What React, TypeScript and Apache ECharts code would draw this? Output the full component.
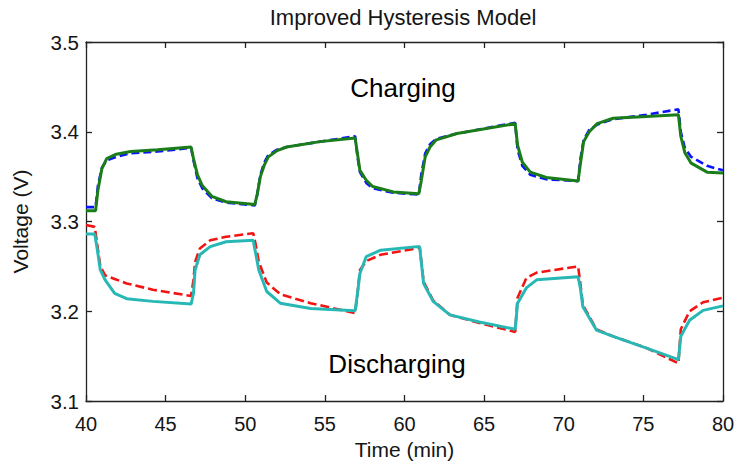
import React, { useEffect, useRef } from "react";
import * as echarts from "echarts";

// ---------- data ----------
const chargeTime = [40, 40.6, 40.75, 41.0, 41.3, 41.9, 42.8, 44.5, 46.6, 46.75, 47.0, 47.3, 47.9, 48.8, 50.6, 50.75, 50.95, 51.2, 51.45, 52.0, 52.6, 54.7, 56.9, 57.05, 57.2, 57.6, 58.0, 59.3, 60.9, 61.05, 61.3, 61.6, 62.0, 63.3, 66.95, 67.1, 67.4, 67.9, 68.9, 70.9, 71.05, 71.25, 71.6, 72.1, 73.1, 75.2, 77.2, 77.35, 77.6, 78.0, 79.0, 80];
const chargeMeasured = [3.312, 3.312, 3.335, 3.359, 3.370, 3.375, 3.378, 3.380, 3.383, 3.370, 3.352, 3.340, 3.328, 3.322, 3.319, 3.330, 3.350, 3.363, 3.372, 3.379, 3.383, 3.389, 3.393, 3.375, 3.357, 3.346, 3.339, 3.333, 3.331, 3.345, 3.372, 3.383, 3.391, 3.398, 3.409, 3.385, 3.366, 3.355, 3.349, 3.345, 3.365, 3.389, 3.400, 3.409, 3.415, 3.417, 3.419, 3.395, 3.377, 3.365, 3.355, 3.354];
const chargeModel = [3.316, 3.316, 3.340, 3.360, 3.368, 3.372, 3.376, 3.378, 3.382, 3.368, 3.348, 3.337, 3.326, 3.321, 3.318, 3.330, 3.352, 3.366, 3.374, 3.380, 3.383, 3.389, 3.395, 3.372, 3.355, 3.343, 3.337, 3.332, 3.330, 3.352, 3.376, 3.386, 3.392, 3.398, 3.410, 3.380, 3.362, 3.352, 3.347, 3.345, 3.370, 3.391, 3.402, 3.408, 3.414, 3.419, 3.425, 3.400, 3.382, 3.372, 3.362, 3.357];

const dischargeTime = [40, 40.55, 40.7, 40.9, 41.2, 41.8, 42.55, 44.2, 46.6, 46.75, 46.85, 47.15, 47.8, 48.8, 50.5, 50.65, 50.85, 51.35, 52.2, 54.1, 56.9, 57.05, 57.2, 57.6, 58.5, 60.8, 60.95, 61.2, 61.8, 62.85, 64.7, 66.95, 67.1, 67.65, 68.3, 70.9, 71.05, 71.2, 72.05, 73.1, 75.2, 77.2, 77.35, 77.9, 78.75, 80];
const dischargeMeasured = [3.286, 3.286, 3.270, 3.246, 3.235, 3.220, 3.214, 3.211, 3.208, 3.220, 3.246, 3.263, 3.272, 3.2775, 3.279, 3.265, 3.246, 3.222, 3.209, 3.203, 3.2005, 3.220, 3.242, 3.261, 3.268, 3.272, 3.272, 3.231, 3.211, 3.196, 3.188, 3.180, 3.209, 3.226, 3.235, 3.2385, 3.225, 3.205, 3.179, 3.172, 3.159, 3.146, 3.172, 3.190, 3.201, 3.206];
const dischargeModel = [3.296, 3.294, 3.275, 3.250, 3.240, 3.236, 3.231, 3.224, 3.217, 3.235, 3.255, 3.270, 3.279, 3.283, 3.287, 3.275, 3.255, 3.232, 3.219, 3.209, 3.198, 3.220, 3.246, 3.256, 3.263, 3.270, 3.272, 3.233, 3.212, 3.196, 3.187, 3.177, 3.215, 3.237, 3.243, 3.250, 3.230, 3.207, 3.180, 3.172, 3.159, 3.142, 3.180, 3.200, 3.210, 3.215];

const xTicks = [40, 45, 50, 55, 60, 65, 70, 75, 80];
const yTicks = [3.1, 3.2, 3.3, 3.4, 3.5];

const titleText = "Improved Hysteresis Model";
const chargeLabel = "Charging";
const dischargeLabel = "Discharging";
const xName = "Time (min)";
const yName = "Voltage (V)";

const zip = (t: number[], v: number[]) => t.map((x, i) => [x, v[i]]);

const FONT = "'Liberation Sans', Arial, sans-serif";
const AXIS_COLOR = "#222";
const TEXT_COLOR = "#151515";

export default function App() {
  const ref = useRef<HTMLDivElement>(null);
  useEffect(() => {
    if (!ref.current) return;
    const chart = echarts.init(ref.current, undefined, { renderer: "svg" });
    const axisCommon = {
      axisLine: { show: true, onZero: false, lineStyle: { color: AXIS_COLOR, width: 1.3 } },
      axisTick: { show: true, inside: true, length: 6, lineStyle: { color: AXIS_COLOR, width: 1.3 } },
      splitLine: { show: false },
    };
    chart.setOption({
      animation: false,
      backgroundColor: "#fff",
      grid: { left: 86, right: 16, top: 42, bottom: 64, containLabel: false },
      xAxis: [
        {
          type: "value",
          min: 40,
          max: 80,
          interval: 5,
          position: "bottom",
          name: xName,
          nameLocation: "middle",
          nameGap: 38,
          nameTextStyle: { fontSize: 21, color: TEXT_COLOR, fontFamily: FONT },
          ...axisCommon,
          axisLabel: {
            show: true,
            margin: 13,
            fontSize: 20,
            color: TEXT_COLOR,
            fontFamily: FONT,
            formatter: (v: number) => (xTicks.includes(v) ? String(v) : ""),
          },
        },
        {
          type: "value",
          min: 40,
          max: 80,
          interval: 5,
          position: "top",
          ...axisCommon,
          axisLabel: { show: false },
        },
      ],
      yAxis: [
        {
          type: "value",
          min: 3.1,
          max: 3.5,
          interval: 0.1,
          position: "left",
          name: yName,
          nameLocation: "middle",
          nameGap: 55,
          nameTextStyle: { fontSize: 21, color: TEXT_COLOR, fontFamily: FONT },
          ...axisCommon,
          axisLabel: {
            show: true,
            margin: 7,
            fontSize: 20.5,
            color: TEXT_COLOR,
            fontFamily: FONT,
            formatter: (v: number) => {
              const f = yTicks.find((t) => Math.abs(t - v) < 1e-6);
              return f !== undefined ? f.toFixed(1) : "";
            },
          },
        },
        {
          type: "value",
          min: 3.1,
          max: 3.5,
          interval: 0.1,
          position: "right",
          ...axisCommon,
          axisLabel: { show: false },
        },
      ],
      graphic: [
        {
          type: "text",
          x: 403,
          y: 17,
          style: {
            text: titleText,
            fontSize: 22,
            fontFamily: FONT,
            fill: TEXT_COLOR,
            textAlign: "center",
            textVerticalAlign: "middle",
          },
        },
        {
          type: "text",
          x: 403,
          y: 88,
          style: {
            text: chargeLabel,
            fontSize: 26,
            fontFamily: FONT,
            fill: "#000",
            textAlign: "center",
            textVerticalAlign: "middle",
          },
        },
        {
          type: "text",
          x: 397,
          y: 364,
          style: {
            text: dischargeLabel,
            fontSize: 26,
            fontFamily: FONT,
            fill: "#000",
            textAlign: "center",
            textVerticalAlign: "middle",
          },
        },
      ],
      series: [
        {
          type: "line",
          name: "Charging model",
          data: zip(chargeTime, chargeModel),
          showSymbol: false,
          lineStyle: { color: "#0a14ff", width: 2.6, type: [8, 4] },
          z: 2,
        },
        {
          type: "line",
          name: "Charging measured",
          data: zip(chargeTime, chargeMeasured),
          showSymbol: false,
          lineStyle: { color: "#1a7d1a", width: 3 },
          z: 3,
        },
        {
          type: "line",
          name: "Discharging model",
          data: zip(dischargeTime, dischargeModel),
          showSymbol: false,
          lineStyle: { color: "#f21313", width: 2.6, type: [9, 4] },
          z: 2,
        },
        {
          type: "line",
          name: "Discharging measured",
          data: zip(dischargeTime, dischargeMeasured),
          showSymbol: false,
          lineStyle: { color: "#27b8b5", width: 3 },
          z: 3,
        },
      ],
    });
    return () => chart.dispose();
  }, []);
  return (
    <div
      ref={ref}
      style={{ position: "absolute", left: 0, top: 0, width: 739, height: 465, background: "#fff" }}
    />
  );
}
